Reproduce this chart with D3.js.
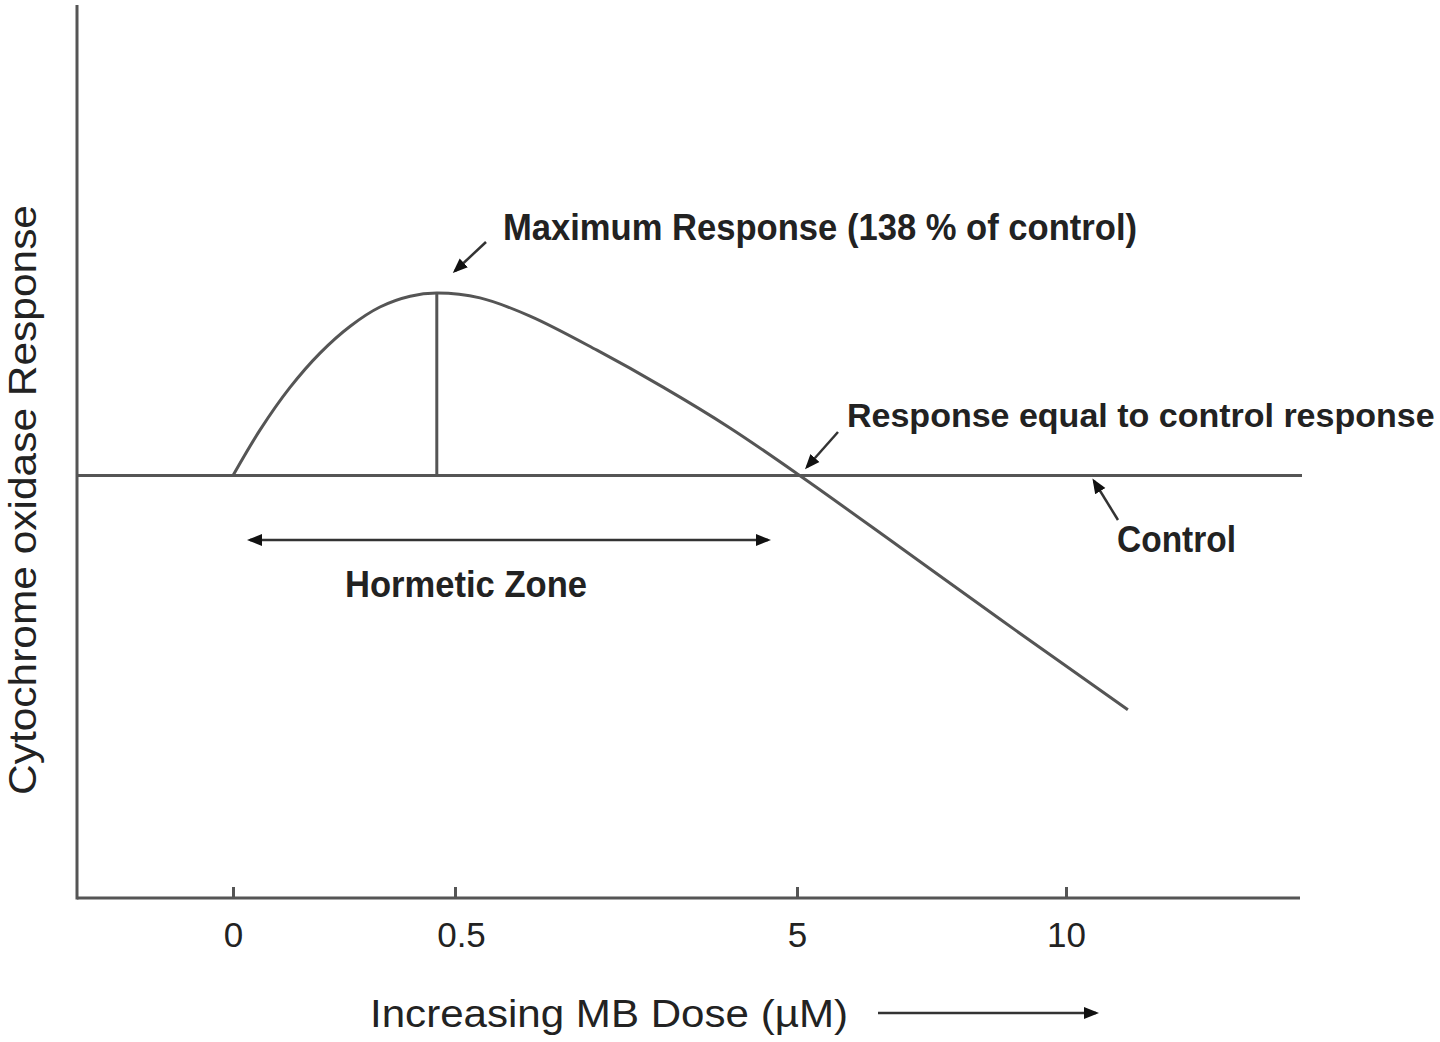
<!DOCTYPE html>
<html>
<head>
<meta charset="utf-8">
<script src="https://cdn.jsdelivr.net/npm/d3@7/dist/d3.min.js"></script>
<style>
  html, body { margin: 0; padding: 0; background: #fff; }
  svg { display: block; }
  text { font-family: "Liberation Sans", Arial, Helvetica, sans-serif; fill: #222; }
</style>
</head>
<body>
<svg id="chart" width="1440" height="1042"></svg>
<script>
// ---------- data ----------
const doseTicks = [0, 0.5, 5, 10];
const tickLabels = ["0", "0.5", "5", "10"];
const curveDose = [0, 0.061, 0.128, 0.196, 0.264, 0.331, 0.399, 0.459, 0.829, 1.487, 2.368, 3.237, 4.118, 5.05, 6.91, 8.77, 11.15];
const curveResponse = [100, 109.5, 118.3, 125.5, 131.1, 135.1, 137.35, 138, 137.0, 133.2, 126.1, 118.4, 109.9, 100, 85.1, 70.1, 51.2];
const controlResponse = 100;
const peakDose = 0.459;
const peakResponse = 138;
const responseDomain = [12, 198];
const xTitle = "Increasing MB Dose (\u00B5M)";
const yTitle = "Cytochrome oxidase Response";
const maxLabel = "Maximum Response (138 % of control)";
const equalLabel = "Response equal to control response";
const controlLabel = "Control";
const zoneLabel = "Hormetic Zone";

// ---------- layout ----------
const svg = d3.select("#chart");
const plotLeft = 77, plotRight = 1302, plotTop = 5, plotBottom = 898;
const lineColor = "#555";

const x = d3.scaleLinear().domain(doseTicks).range([233, 455, 797, 1066]);
const y = d3.scaleLinear().domain(responseDomain).range([plotBottom, plotTop]);

// defs: arrowhead
const defs = svg.append("defs");
defs.append("marker")
  .attr("id", "head")
  .attr("viewBox", "0 0 10 10")
  .attr("refX", 8).attr("refY", 5)
  .attr("markerWidth", 6).attr("markerHeight", 6)
  .attr("markerUnits", "strokeWidth")
  .attr("orient", "auto-start-reverse")
  .append("path")
  .attr("d", "M0,1 L10,5 L0,9 Z")
  .attr("fill", "#111");

// x axis
const xAxis = d3.axisBottom(x)
  .tickValues(doseTicks)
  .tickFormat((d, i) => tickLabels[i])
  .tickSizeInner(-11)
  .tickSizeOuter(0)
  .tickPadding(24);
const gx = svg.append("g").attr("transform", `translate(0,${plotBottom})`).call(xAxis);
gx.select(".domain").remove();
gx.selectAll(".tick line").attr("stroke", lineColor).attr("stroke-width", 3);
gx.selectAll(".tick text")
  .attr("font-size", 35)
  .attr("font-family", '"Liberation Sans", Arial, sans-serif')
  .attr("fill", "#2a2a2a");
gx.selectAll(".tick text").filter((d) => d === 0.5).attr("dx", 6);

// axis lines
svg.append("line").attr("x1", plotLeft).attr("x2", plotRight - 2).attr("y1", plotBottom).attr("y2", plotBottom)
  .attr("stroke", lineColor).attr("stroke-width", 3);
svg.append("line").attr("x1", plotLeft).attr("x2", plotLeft).attr("y1", plotTop).attr("y2", plotBottom + 1.5)
  .attr("stroke", lineColor).attr("stroke-width", 3);

// control line
svg.append("line").attr("x1", plotLeft).attr("x2", plotRight).attr("y1", y(controlResponse)).attr("y2", y(controlResponse))
  .attr("stroke", lineColor).attr("stroke-width", 3);

// curve
const pts = curveDose.map((d, i) => [d, curveResponse[i]]);
const line = d3.line().x(d => x(d[0])).y(d => y(d[1])).curve(d3.curveCatmullRom.alpha(0.5));
svg.append("path").datum(pts).attr("d", line)
  .attr("fill", "none").attr("stroke", lineColor).attr("stroke-width", 3);

// peak drop line
svg.append("line").attr("x1", x(peakDose)).attr("x2", x(peakDose))
  .attr("y1", y(peakResponse)).attr("y2", y(controlResponse))
  .attr("stroke", lineColor).attr("stroke-width", 3);

// annotation arrows
function arrow(x1, y1, x2, y2, both) {
  const l = svg.append("line").attr("x1", x1).attr("y1", y1).attr("x2", x2).attr("y2", y2)
    .attr("stroke", "#333").attr("stroke-width", 2.5)
    .attr("marker-end", "url(#head)");
  if (both) l.attr("marker-start", "url(#head)");
}
arrow(486, 242, 455, 271);
arrow(838, 432, 807, 467);
arrow(1118, 520, 1094, 481);
arrow(250, 540, 768, 540, true);
arrow(878, 1013, 1096, 1013);

// annotation texts
function label(txt, xPos, yPos, size, width, bold) {
  const t = svg.append("text").attr("x", xPos).attr("y", yPos)
    .attr("font-size", size).attr("font-weight", bold ? "bold" : "normal")
    .text(txt);
  if (width) t.attr("textLength", width).attr("lengthAdjust", "spacingAndGlyphs");
}
label(maxLabel, 503, 240, 37, 634, true);
label(equalLabel, 847, 427, 34, null, true);
label(controlLabel, 1117, 552, 36, 119, true);
label(zoneLabel, 345, 597, 36, 242, true);
label(xTitle, 370, 1027, 38, 478, false);

// y title
svg.append("text")
  .attr("transform", `translate(36,500) rotate(-90)`)
  .attr("text-anchor", "middle")
  .attr("font-size", 38)
  .attr("textLength", 590).attr("lengthAdjust", "spacingAndGlyphs")
  .text(yTitle);
</script>
</body>
</html>
